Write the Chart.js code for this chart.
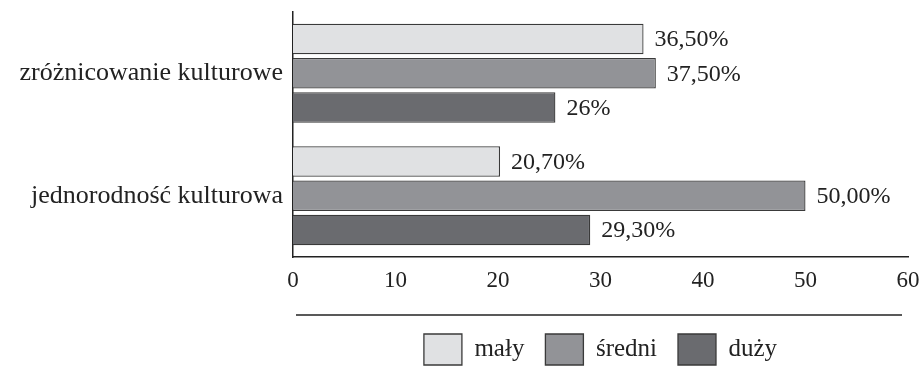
<!DOCTYPE html>
<html>
<head>
<meta charset="utf-8">
<script src="https://cdn.jsdelivr.net/npm/chart.js@4/dist/chart.umd.min.js"></script>
<style>
  html, body { margin: 0; padding: 0; background: #fff; }
  .wrap { width: 923px; height: 375px; position: relative; }
</style>
</head>
<body>
<div class="wrap"><canvas id="chart"></canvas></div>
<script>
const categories = ["zróżnicowanie kulturowe", "jednorodność kulturowa"];
const seriesNames = ["mały", "średni", "duży"];
// bar lengths as drawn
const maly   = [34.2, 20.2];
const sredni = [35.4, 50.0];
const duzy   = [25.6, 29.0];
// printed value labels
const malyLabels   = ["36,50%", "20,70%"];
const sredniLabels = ["37,50%", "50,00%"];
const duzyLabels   = ["26%", "29,30%"];
const xTicks = [0, 10, 20, 30, 40, 50, 60];

const colors = ["#e0e1e3", "#929397", "#6a6b6f"];
const FONT = "'Liberation Serif', 'DejaVu Serif', serif";
const TEXT = "#222";

// text at the end of each bar
const valueLabels = {
  id: "valueLabels",
  afterDatasetsDraw(chart){
    const ctx = chart.ctx;
    ctx.save();
    ctx.font = "24px " + FONT;
    ctx.fillStyle = TEXT;
    ctx.textBaseline = "middle";
    ctx.textAlign = "left";
    chart.data.datasets.forEach((ds, i) => {
      chart.getDatasetMeta(i).data.forEach((bar, j) => {
        ctx.fillText(ds.valueText[j], bar.x + 11, bar.y + 1);
      });
    });
    ctx.restore();
  }
};

// thin rule above the legend
const legendRule = {
  id: "legendRule",
  afterDraw(chart){
    const ctx = chart.ctx;
    ctx.save();
    ctx.strokeStyle = "#222";
    ctx.lineWidth = 1.5;
    ctx.beginPath();
    ctx.moveTo(296, 315);
    ctx.lineTo(902, 315);
    ctx.stroke();
    ctx.restore();
  }
};

const series = [maly, sredni, duzy];
const seriesLabels = [malyLabels, sredniLabels, duzyLabels];

new Chart(document.getElementById("chart"), {
  type: "bar",
  data: {
    labels: categories,
    datasets: seriesNames.map((name, i) => ({
      label: name,
      data: series[i],
      valueText: seriesLabels[i],
      backgroundColor: colors[i],
      borderColor: "#3a3a3a",
      borderWidth: 1.3,
      categoryPercentage: 0.84,
      barPercentage: 0.89
    }))
  },
  options: {
    indexAxis: "y",
    responsive: true,
    maintainAspectRatio: false,
    animation: false,
    layout: { padding: { top: 12, right: 15, left: 0, bottom: 0 } },
    scales: {
      x: {
        min: 0, max: 60,
        afterBuildTicks(scale){ scale.ticks = xTicks.map(v => ({ value: v })); },
        grid: { display: false, drawTicks: false },
        border: { display: true, color: "#222", width: 1.5 },
        ticks: { font: { family: FONT, size: 23 }, color: TEXT, padding: 10 },
        afterFit(scale){ scale.height = 56; scale.paddingLeft = 0; scale.paddingRight = 0; }
      },
      y: {
        grid: { display: false, drawTicks: false },
        border: { display: true, color: "#222", width: 1.5 },
        ticks: { font: { family: FONT, size: 26 }, color: TEXT, padding: 10 },
        afterFit(scale){ scale.width = 293; scale.paddingTop = 0; scale.paddingBottom = 0; }
      }
    },
    plugins: {
      legend: {
        position: "bottom",
        fullSize: false,
        labels: {
          font: { family: FONT, size: 25 },
          color: TEXT,
          boxWidth: 38,
          boxHeight: 31,
          padding: 21
        }
      },
      tooltip: { enabled: false }
    }
  },
  plugins: [valueLabels, legendRule]
});
</script>
</body>
</html>
